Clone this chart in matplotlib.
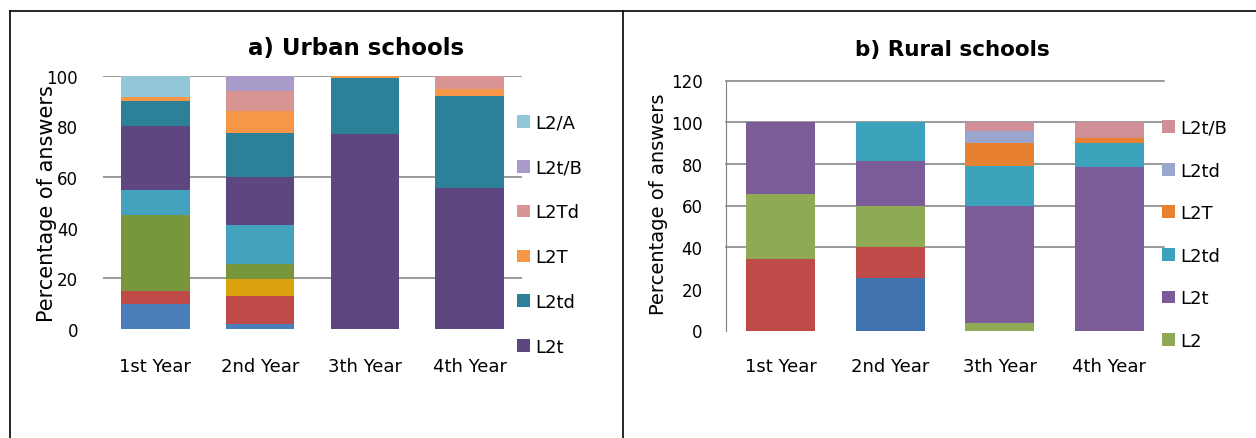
import numpy as np
import matplotlib
matplotlib.use("Agg")
import matplotlib.pyplot as plt
from matplotlib.patches import Patch
from matplotlib.lines import Line2D

W, H = 1256, 439

years = ['1st Year', '2nd Year', '3th Year', '4th Year']

# a) Urban schools, stacked bottom -> top (first five series are not in the visible legend)
urban_labels = [None, None, None, None, None, 'L2t', 'L2td', 'L2T', 'L2Td', 'L2t/B', 'L2/A']
urban_colors = ['#4A7EBB', '#BE4B48', '#D9A20C', '#78963C', '#43A3BF',
                '#5E4680', '#2C8199', '#F79646', '#D99594', '#A99BC9', '#93C6D6']
urban_values = [
    [10, 2, 0, 0],
    [5, 11, 0, 0],
    [0, 6.7, 0, 0],
    [30, 6, 0, 0],
    [10, 15.5, 0, 0],
    [25, 18.8, 77, 55.8],
    [10, 17.3, 22, 36.3],
    [1.5, 8.7, 1, 2.5],
    [0, 8, 0, 5.4],
    [0, 6, 0, 0],
    [8.5, 0, 0, 0],
]

# b) Rural schools
rural_labels = [None, None, 'L2', 'L2t', 'L2td', 'L2T', 'L2td', 'L2t/B']
rural_colors = ['#3F72AE', '#BE4B48', '#8EAA55', '#7B5C99', '#3DA3BD',
                '#E8812F', '#9AA6CC', '#D18F97']
rural_values = [
    [0, 25, 0, 0],
    [34.5, 15, 0, 0],
    [31, 20, 3.5, 0],
    [34.5, 21.5, 56.5, 78.5],
    [0, 18.5, 19, 11.5],
    [0, 0, 11, 2.5],
    [0, 0, 6, 0],
    [0, 0, 4, 7.5],
]

plt.rcParams['font.family'] = ['DejaVu Sans']

fig = plt.figure(figsize=(W / 100, H / 100), dpi=100)


def px_axes(left, right, y0, ytop):
    return fig.add_axes([left / W, (H - y0) / H, (right - left) / W, (y0 - ytop) / H])


def stacked(ax, values, colors, labels, width):
    x = np.arange(len(years))
    bottom = np.zeros(len(years))
    handles = []
    for vals, col, lab in zip(values, colors, labels):
        ax.bar(x, vals, width, bottom=bottom, color=col, zorder=3)
        bottom += np.array(vals, dtype=float)
        if lab is not None:
            handles.append((Patch(facecolor=col), lab))
    ax.set_xlim(-0.5, len(years) - 0.5)
    ax.set_xticks(x)
    ax.set_xticklabels(years, fontsize=13)
    return handles[::-1]


# panel a
ax1 = px_axes(103, 522, 330, 76.7)
h1 = stacked(ax1, urban_values, urban_colors, urban_labels, 0.655)
ax1.set_ylim(0, 100)
ax1.set_yticks(range(0, 101, 20))
for g in [20, 60, 100]:
    ax1.axhline(g, color='#7f7f7f', lw=1.1, zorder=1)
for s in ax1.spines.values():
    s.set_visible(False)
ax1.tick_params(axis='y', length=0, pad=18, labelsize=12)
ax1.tick_params(axis='x', length=0, pad=20)
ax1.patch.set_alpha(0)

# panel b
ax2 = px_axes(726, 1164, 331.5, 81.5)
h2 = stacked(ax2, rural_values, rural_colors, rural_labels, 0.63)
ax2.set_ylim(0, 120)
ax2.set_yticks(range(0, 121, 20))
for g in [40, 60, 80, 100, 120]:
    ax2.axhline(g, color='#7f7f7f', lw=1.1, zorder=1, clip_on=False)
for name, s in ax2.spines.items():
    s.set_visible(name == 'left')
ax2.spines['left'].set_color('#7f7f7f')
ax2.tick_params(axis='y', length=0, pad=17, labelsize=12)
ax2.tick_params(axis='x', length=0, pad=19)
ax2.patch.set_alpha(0)

# titles and axis labels
fig.text(356 / W, 1 - 48 / H, 'a) Urban schools', fontsize=16.5, fontweight='bold',
         ha='center', va='center')
fig.text(952 / W, 1 - 50 / H, 'b) Rural schools', fontsize=15.5, fontweight='bold',
         ha='center', va='center')
fig.text(47 / W, 1 - 204 / H, 'Percentage of answers', fontsize=15, rotation=90,
         ha='center', va='center')
fig.text(658 / W, 1 - 204 / H, 'Percentage of answers', fontsize=14, rotation=90,
         ha='center', va='center')

# legends
for handles, x0, ytop, sp in [(h1, 517, 115, 1.48), (h2, 1162, 120, 1.36)]:
    fig.legend([h for h, _ in handles], [l for _, l in handles], loc='upper left',
               bbox_to_anchor=(x0 / W, 1 - ytop / H), frameon=False, fontsize=13,
               handlelength=0.7, handleheight=0.7, handletextpad=0.3,
               labelspacing=sp, borderpad=0, borderaxespad=0)

# table borders around the two charts
for xs, ys in [([10, 10], [12, H]), ([10, W], [12, 12]), ([623, 623], [12, H])]:
    fig.add_artist(Line2D([x / W for x in xs], [1 - y / H for y in ys], color='black', lw=1.2))

fig.savefig('out.png', dpi=100)
